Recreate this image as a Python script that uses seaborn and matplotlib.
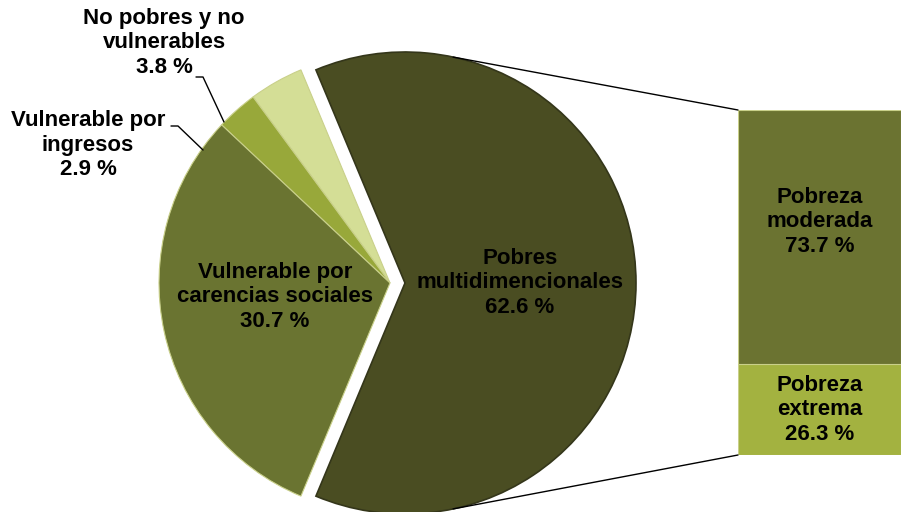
import numpy as np
import matplotlib
matplotlib.use("Agg")
import matplotlib.pyplot as plt
from matplotlib.patches import ConnectionPatch
import seaborn as sns

# Pie: share of population by poverty condition (counter-clockwise from the exploded slice)
pie_labels = ["Pobres\nmultidimencionales", "No pobres y no\nvulnerables",
              "Vulnerable por\ningresos", "Vulnerable por\ncarencias sociales"]
pie_values = [62.6, 3.8, 2.9, 30.7]
pie_colors = ["#4A4D22", "#D4DE96", "#98A83A", "#6A7431"]

# Bar: breakdown of the multidimensional poor (bottom to top)
bar_labels = ["Pobreza\nextrema", "Pobreza\nmoderada"]
bar_values = [26.3, 73.7]
bar_colors = ["#A3B240", "#6B7331"]

sns.set_theme(style="white")
plt.rcParams["font.family"] = ["Liberation Sans", "DejaVu Sans"]

W, H = 901, 512
fig = plt.figure(figsize=(W / 100, H / 100), dpi=100)
ax = fig.add_axes([0, 0, 1, 1])

# Pie geometry in pixel space (y upward)
cx, cy, r = 390, H - 283, 231
explode_px = 15
start = -pie_values[0] / sum(pie_values) * 180
wedges, _ = ax.pie(pie_values, colors=pie_colors, startangle=start,
                   counterclock=True, center=(cx, cy), radius=r,
                   explode=[explode_px, 0, 0, 0],
                   wedgeprops=dict(edgecolor="#C9D08A", linewidth=0.8))
# darker rim on the large slice
wedges[0].set_edgecolor("#34361A")
wedges[0].set_linewidth(1.2)
ax.set_xlim(0, W)
ax.set_ylim(0, H)
ax.set_aspect("equal")
ax.axis("off")

fs = 16
txt = dict(fontsize=fs, fontweight="bold", color="black", ha="center",
           va="center", linespacing=1.22)

def fmt(label, v):
    return f"{label}\n{v:.1f} %"

# Labels inside the large slices
ax.text(520, H - 283, fmt(pie_labels[0], pie_values[0]), **txt)
ax.text(275, H - 297, fmt(pie_labels[3], pie_values[3]), **txt)

# Labels outside the thin slices, with leader lines
ax.text(164, H - 43, fmt(pie_labels[1], pie_values[1]), **txt)
ax.plot([196, 203, 224], [H - 77, H - 77, H - 122], color="black", lw=1)
ax.text(88, H - 145, fmt(pie_labels[2], pie_values[2]), **txt)
ax.plot([171, 178, 203], [H - 126, H - 126, H - 150], color="black", lw=1)

# Stacked bar on the right
bx0, bx1, by0, by1 = 738, W, 455, 110
bax = fig.add_axes([bx0 / W, (H - by0) / H, (bx1 - bx0) / W, (by0 - by1) / H])
tops = np.cumsum(bar_values)
for top, col in zip(tops[::-1], bar_colors[::-1]):
    sns.barplot(x=["Pobres"], y=[top], color=col, width=1.0, ax=bax,
                edgecolor="#C9D08A", linewidth=0.8, saturation=1)
bax.set_xlim(-0.5, 0.5)
bax.set_ylim(0, 100)
bax.axis("off")

bottoms = tops - np.array(bar_values)
label_frac = [0.5, 0.56]
for lab, v, b, f in zip(bar_labels, bar_values, bottoms, label_frac):
    bax.text(0.0, b + v * f, fmt(lab, v), **txt)

# Connector lines from the exploded slice to the bar corners
ecx = cx + explode_px
ang = np.deg2rad(78)
for sgn, ycorner in ((1, 100), (-1, 0)):
    p = (ecx + r * np.cos(ang), cy + sgn * r * np.sin(ang))
    con = ConnectionPatch(xyA=p, coordsA=ax.transData, xyB=(-0.5, ycorner),
                          coordsB=bax.transData, color="black", lw=1)
    fig.add_artist(con)

fig.savefig("out.png", dpi=100)
